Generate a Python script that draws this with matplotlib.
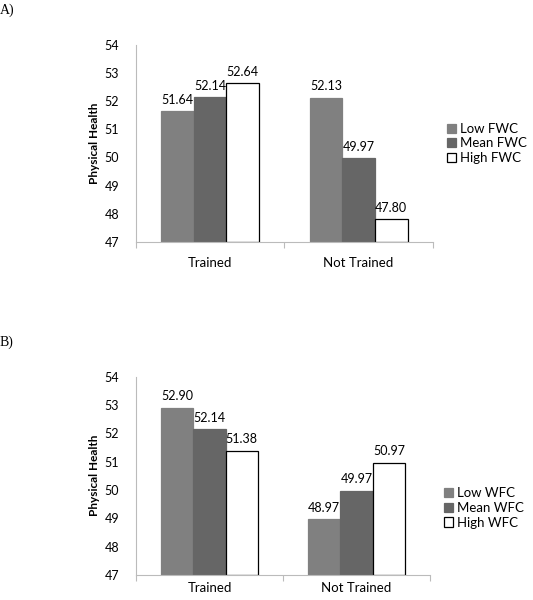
import matplotlib.pyplot as plt
import numpy as np

categories = ["Trained", "Not Trained"]

fwc_labels = ["Low FWC", "Mean FWC", "High FWC"]
fwc_low = [51.64, 52.13]
fwc_mean = [52.14, 49.97]
fwc_high = [52.64, 47.80]

wfc_labels = ["Low WFC", "Mean WFC", "High WFC"]
wfc_low = [52.90, 48.97]
wfc_mean = [52.14, 49.97]
wfc_high = [51.38, 50.97]

yticks = [47, 48, 49, 50, 51, 52, 53, 54]

plt.rcParams["font.family"] = ["Lato", "DejaVu Sans"]


def panel(ax, series, labels, xpad):
    x = np.arange(len(categories))
    w = 0.22
    colors = ["#808080", "#666666", "white"]
    for i, (vals, lab, col) in enumerate(zip(series, labels, colors)):
        pos = x + (i - 1) * w
        edge = "black" if col == "white" else col
        ax.bar(pos, np.array(vals) - 47, bottom=47, width=w, color=col,
               edgecolor=edge, linewidth=0.9, label=lab)
        for p, v in zip(pos, vals):
            ax.annotate(f"{v:.2f}", (p, v), xytext=(0, 4), textcoords="offset points",
                        ha="center", va="bottom", fontsize=9)
    ax.set_ylim(47, 54)
    ax.set_xlim(-0.5, 1.5)
    ax.set_yticks(yticks)
    ax.tick_params(axis="y", length=0, labelsize=9, pad=12)
    ax.set_xticks([-0.5, 0.5, 1.5])
    ax.set_xticklabels([])
    ax.set_xticks(x, minor=True)
    ax.set_xticklabels(categories, minor=True, fontsize=9.5)
    ax.tick_params(axis="x", which="major", length=4, direction="out", color="#bbbbbb")
    ax.tick_params(axis="x", which="minor", length=0, pad=xpad)
    for s in ["top", "right"]:
        ax.spines[s].set_visible(False)
    for s in ["left", "bottom"]:
        ax.spines[s].set_color("#bbbbbb")
        ax.spines[s].set_linewidth(0.8)
    ax.set_ylabel("Physical Health", fontsize=8.5, fontweight="bold", labelpad=3)
    ax.legend(loc="center left", bbox_to_anchor=(1.03, 0.5), frameon=False, fontsize=9.5,
              handlelength=0.7, handleheight=0.7, handletextpad=0.3, labelspacing=0.2,
              borderaxespad=0)


fig = plt.figure(figsize=(5.33, 6), dpi=100)
ax1 = fig.add_axes([0.255, 0.597, 0.557, 0.328])
ax2 = fig.add_axes([0.255, 0.042, 0.552, 0.33])

panel(ax1, [fwc_low, fwc_mean, fwc_high], fwc_labels, 11)
panel(ax2, [wfc_low, wfc_mean, wfc_high], wfc_labels, 5)
ax2.get_legend().set_bbox_to_anchor((1.03, 0.338))

fig.text(0.0, 0.983, "A)", fontsize=10, family="Liberation Serif", va="center")
fig.text(0.0, 0.43, "B)", fontsize=10, family="Liberation Serif", va="center")

fig.savefig("out.png", dpi=100)
